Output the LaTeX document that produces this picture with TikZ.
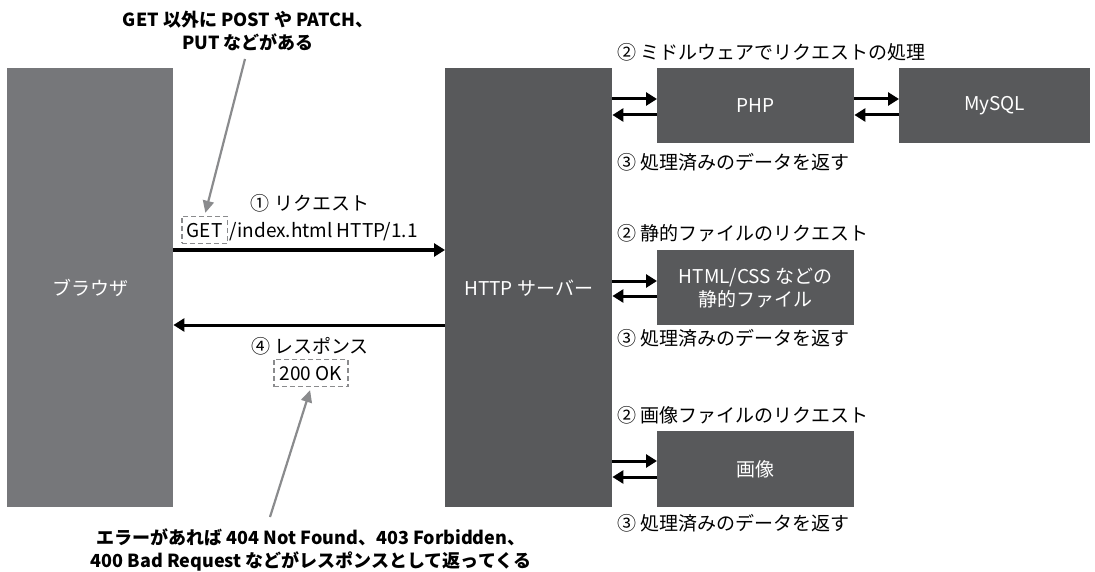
\documentclass[tikz,border=0pt]{standalone}
\usepackage{fontspec}
\setmainfont{Noto Sans CJK JP}
\usetikzlibrary{arrows.meta}
\definecolor{lightbox}{HTML}{76777A}
\definecolor{darkbox}{HTML}{58595B}
\definecolor{notegray}{HTML}{8A8B8D}
\begin{document}
\begin{tikzpicture}[x=1pt,y=-1pt,
  every node/.style={font=\fontsize{19}{23}\selectfont, inner sep=0pt},
  box/.style={fill=darkbox, text=white, anchor=north west, align=center},
  lbl/.style={anchor=west},
  flow/.style={line width=3pt, -{Triangle[length=11pt,width=13pt]}},
  note/.style={line width=2.2pt, draw=notegray, -{Triangle[length=12pt,width=11pt]}},
  dbox/.style={draw=notegray, dash pattern=on 5pt off 3pt, line width=1.6pt, text height=14pt, text depth=0pt, inner ysep=6.5pt, inner xsep=5pt},
  annot/.style={font=\bfseries\fontsize{18}{23}\selectfont, align=center}]
\useasboundingbox (0,0) rectangle (1095,572);

% main boxes
\node[box, fill=lightbox, minimum width=166pt, minimum height=439pt] (browser) at (7,68) {ブラウザ};
\node[box, minimum width=167pt, minimum height=439pt] (server) at (445,68) {HTTP サーバー};
\node[box, minimum width=197pt, minimum height=75pt] (php) at (657,68) {PHP};
\node[box, minimum width=191pt, minimum height=75pt] (mysql) at (899,68) {MySQL};
\node[box, minimum width=197pt, minimum height=75pt] (static) at (657,250) {HTML/CSS などの\\静的ファイル};
\node[box, minimum width=197pt, minimum height=76pt] (img) at (657,431) {画像};

% right-side labels
\node[lbl] (m2) at (617,52) {② ミドルウェアでリクエストの処理};
\node[lbl] (m3) at (617,162) {③ 処理済みのデータを返す};
\node[lbl] (s2) at (617,233) {② 静的ファイルのリクエスト};
\node[lbl] (s3) at (617,338) {③ 処理済みのデータを返す};
\node[lbl] (i2) at (617,415) {② 画像ファイルのリクエスト};
\node[lbl] (i3) at (617,523) {③ 処理済みのデータを返す};

% request / response labels
\node (reqlbl) at (310,203) {① リクエスト};
\node[dbox, anchor=base west] (get) at (181,237) {GET};
\node[anchor=base west] (reqpath) at ([xshift=1pt]get.base east) {/index.html HTTP/1.1};
\node (reslbl) at (310,346) {④ レスポンス};
\node[dbox, inner xsep=6pt] (ok) at (311,373) {200 OK};

% annotations
\node[annot] (note1) at (248,31) {GET 以外に POST や PATCH、\\PUT などがある};
\node[annot] (note2) at (311,550) {エラーがあれば 404 Not Found、403 Forbidden、\\400 Bad Request などがレスポンスとして返ってくる};
\coordinate (n1tail) at (245,59);
\coordinate (n2tail) at (270,517);
\draw[note, shorten >=3pt] (n1tail) -- (get.north);
\draw[note, shorten >=3pt] (n2tail) -- (ok.south);

% main flows
\draw[flow] (browser.east |- 0,250) -- (server.west |- 0,250);
\draw[flow] (server.west |- 0,325) -- (browser.east |- 0,325);

% server <-> php
\draw[flow] (server.east |- 0,99) -- (php.west |- 0,99);
\draw[flow] (php.west |- 0,115) -- (server.east |- 0,115);
% php <-> mysql
\draw[flow] (php.east |- 0,99) -- (mysql.west |- 0,99);
\draw[flow] (mysql.west |- 0,115) -- (php.east |- 0,115);
% server <-> static
\draw[flow] (server.east |- 0,281) -- (static.west |- 0,281);
\draw[flow] (static.west |- 0,296) -- (server.east |- 0,296);
% server <-> image
\draw[flow] (server.east |- 0,461) -- (img.west |- 0,461);
\draw[flow] (img.west |- 0,477) -- (server.east |- 0,477);
\end{tikzpicture}
\end{document}
